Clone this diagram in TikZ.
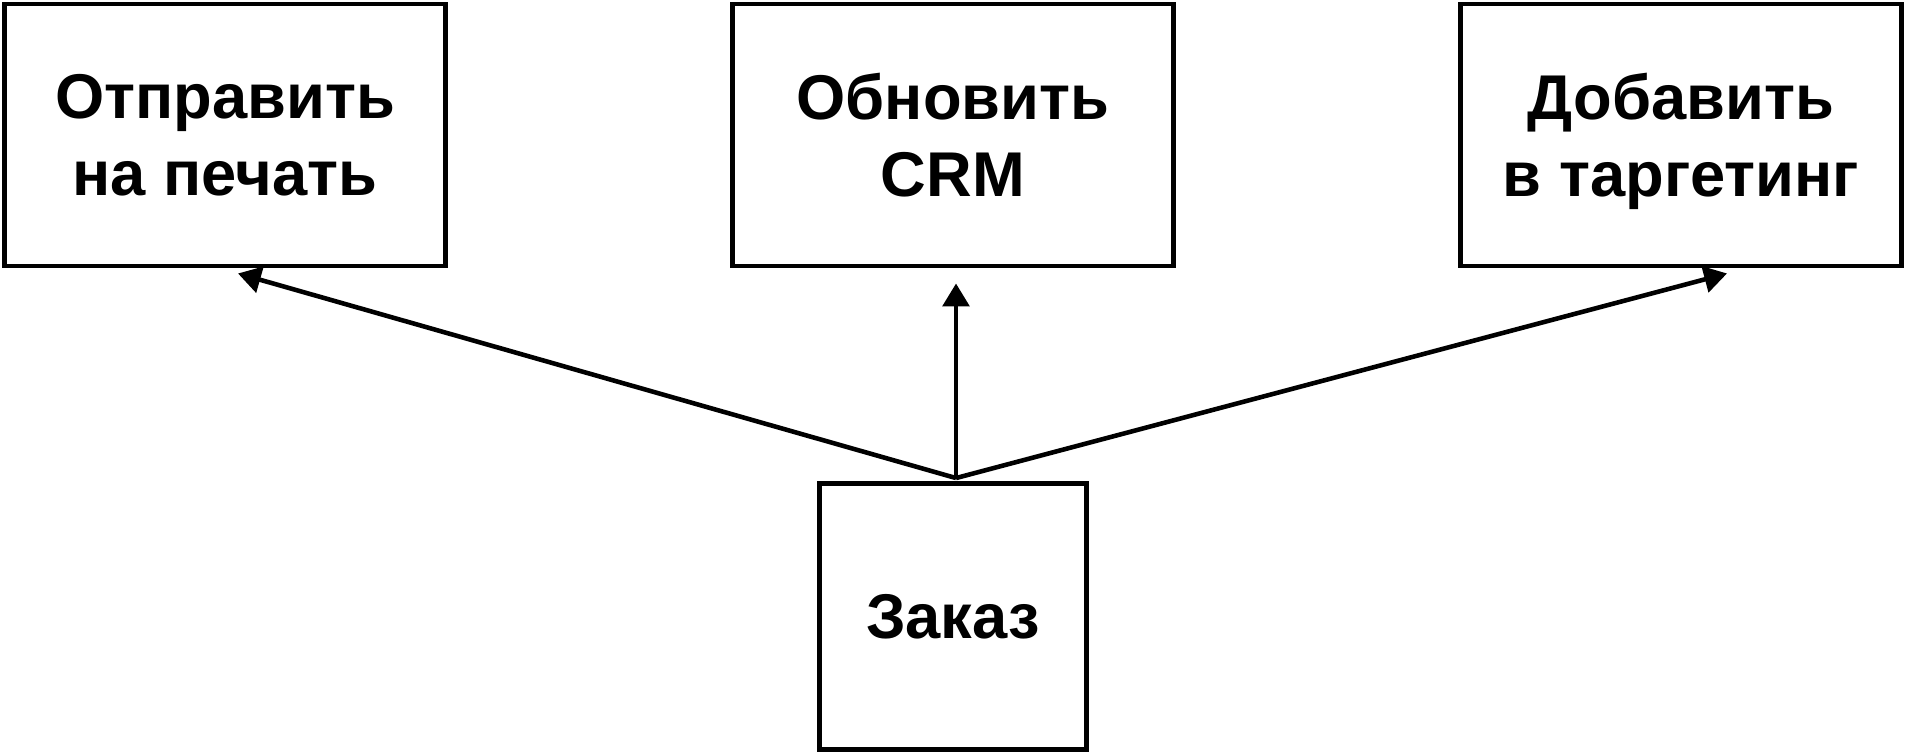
\documentclass[tikz,border=0pt]{standalone}
\usepackage{fontspec}
\setmainfont{Liberation Sans}
\usetikzlibrary{arrows.meta,positioning}

\providecommand*{\picW}{}
\providecommand*{\picH}{}
\renewcommand*{\picW}{1905}
\renewcommand*{\picH}{755}

\tikzset{
  task/.style={draw,line width=2.8pt,minimum width=441*0.02cm,minimum height=262*0.02cm,
    align=center,inner sep=0pt,text depth=0pt,font=\fontsize{36}{44}\selectfont\bfseries},
  order/.style={task,minimum width=267*0.02cm,minimum height=266*0.02cm},
  link/.style={line width=2.6pt,-{Triangle[length=13pt,width=15pt]}}
}

\begin{document}
\begin{tikzpicture}[x=0.02cm,y=-0.02cm]
  \useasboundingbox (0,0) rectangle (\picW,\picH);
  \node [task] (print) at (225,135) {Отправить\\на печать};
  \node [task] (crm) at (953,135) {Обновить\\CRM};
  \node [task] (target) at (1681,135) {Добавить\\в таргетинг};
  \node [order] (zakaz) at (953,616.5) {Заказ};
  % arrow ends stop short of the boxes
  \coordinate (printEnd) at ([shift={(13,5)}]print.south);
  \coordinate (crmEnd) at ([shift={(3,15)}]crm.south);
  \coordinate (targetEnd) at ([shift={(46,5)}]target.south);
  \coordinate (zakazTop) at ([shift={(3,-3)}]zakaz.north);
  \draw [link] (zakazTop) -- (printEnd);
  \draw [link] (zakazTop) -- (crmEnd);
  \draw [link] (zakazTop) -- (targetEnd);
\end{tikzpicture}
\end{document}
